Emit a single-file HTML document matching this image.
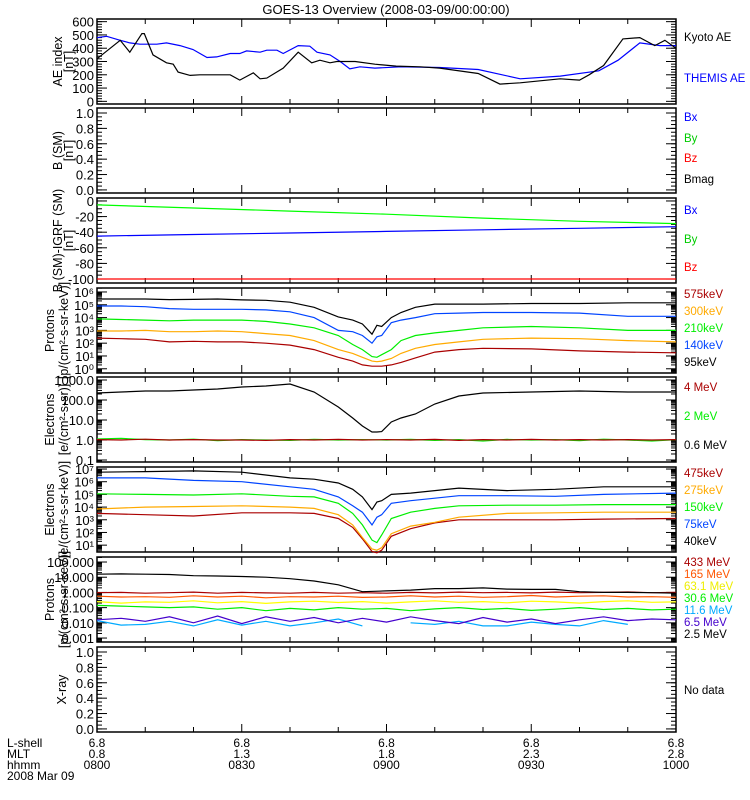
<!DOCTYPE html>
<html><head><meta charset="utf-8"><style>
body{margin:0;background:#fff}
svg{display:block;font-family:"Liberation Sans",sans-serif}
</style></head><body>
<svg id="c" width="750" height="800" viewBox="0 0 750 800"></svg>
<script>
// ---------- data ----------
const kyotoT=[0,4.8,6.8,9.3,9.8,11.6,14.4,15.8,16.8,19.3,21.3,27.6,29.6,32.4,33.8,35.2,38.6,41.7,44.5,46.2,48.3,49.7,53.5,57.6,62,67,71,79,83.5,87.7,96,100,102,105,109,112.5,115.6,117.7,120];
const kyotoV=[320,460,370,510,510,350,290,280,220,195,200,200,160,215,170,175,250,370,290,310,290,300,300,280,265,260,250,210,130,140,170,160,200,270,470,480,420,460,400];
const themisT=[0,2,4.8,6.8,8.9,12.4,14.4,17.2,19.9,22.8,24.8,27.6,29.6,31,33.8,35.2,37.3,38.6,41.7,44.1,45.6,48.3,50.4,52.4,54.5,57.6,63,71,79,87.7,96,104,108,112.5,116.7,120];
const themisV=[480,490,460,440,430,430,440,420,390,330,335,360,360,380,370,385,385,360,420,415,370,350,300,245,260,250,260,255,240,170,190,230,310,440,420,420];
const bT=[0,20,40,60,80,100,120];
const bxV=[-45,-43,-41,-39,-37,-35,-33];
const byV=[-5,-9,-13,-17,-22,-26,-29];
const bzV=[-100,-100,-100,-100,-100,-100,-100];
const pT=[0,5,10,15,20,25,30,35,40,45,50,53,55,57,58,59,61,63,66,70,75,80,90,100,110,120];
const p95=[5.45,5.45,5.45,5.4,5.42,5.45,5.38,5.35,5.2,4.8,4.05,3.8,3.5,2.7,3.4,3.3,4.0,4.4,4.8,5.05,5.05,5.05,5.1,5.1,5.15,5.15];
const p140=[4.9,4.9,4.85,4.7,4.65,4.65,4.65,4.6,4.45,4.0,3.0,2.9,2.6,2.0,2.5,2.6,3.6,3.8,4.0,4.3,4.35,4.4,4.4,4.35,4.1,4.1];
const p210=[3.9,3.85,3.8,3.75,3.8,3.8,3.8,3.7,3.5,3.2,2.6,1.9,1.5,0.95,0.9,1.1,1.5,2.2,2.6,2.8,3.0,3.2,3.3,3.2,3.0,3.0];
const p300=[2.95,2.95,3.0,2.9,2.9,2.95,2.9,2.75,2.6,2.2,1.5,1.2,0.9,0.6,0.55,0.6,0.8,1.2,1.6,1.9,2.1,2.3,2.4,2.35,2.2,2.1];
const p575=[2.4,2.35,2.3,2.1,2.15,2.1,2.1,2.0,1.85,1.5,0.9,0.6,0.3,0.2,0.2,0.2,0.3,0.5,0.85,1.3,1.5,1.6,1.55,1.4,1.3,1.25];
const e06=[2.35,2.4,2.45,2.45,2.5,2.55,2.65,2.7,2.8,2.4,1.65,1.1,0.7,0.4,0.4,0.42,0.9,1.1,1.3,1.8,2.2,2.35,2.4,2.45,2.4,2.4];
const nT=[0,5,10,15,20,25,30,35,40,45,50,55,60,65,70,75,80,85,90,95,100,105,110,115,120];
const e2=[0.05,0.08,0.02,0.0,0.04,-0.03,0.02,0.0,-0.02,0.03,0.0,0.02,0.0,0.03,-0.02,0.02,-0.05,0.03,0.0,0.02,-0.03,0.04,0.0,-0.05,0.02];
const e4=[0.02,0.0,0.04,0.0,0.02,0.0,0.0,-0.02,0.02,0.0,0.03,0.0,0.02,0.0,0.03,-0.02,0.02,0.0,0.03,0.0,0.02,0.0,0.02,0.0,0.02];
const eT=[0,10,20,30,40,45,50,53,55,57,58,59,61,65,70,75,85,95,105,120];
const e40=[6.75,6.8,6.85,6.75,6.3,6.2,5.9,5.4,4.8,3.8,4.4,4.5,5.0,5.1,5.3,5.5,5.3,5.4,5.6,5.6];
const e75=[6.3,6.3,6.1,6.0,5.6,5.4,4.8,4.1,3.6,2.6,3.2,3.4,4.3,4.5,4.7,4.9,4.9,4.85,5.0,5.1];
const e150=[5.05,5.0,4.95,5.05,4.85,4.8,4.3,3.5,2.6,1.4,1.2,1.8,3.1,3.6,3.9,4.1,4.15,4.15,4.2,4.2];
const e275=[3.85,4.0,4.05,4.1,4.0,3.9,3.4,2.6,1.6,0.7,0.6,0.8,1.9,2.5,2.8,3.2,3.5,3.55,3.6,3.6];
const e475=[3.5,3.4,3.3,3.55,3.55,3.5,3.1,2.4,1.5,0.5,0.4,0.6,1.7,2.3,2.75,3.0,3.0,3.0,3.05,3.1];
const h25=[1.2,1.22,1.2,1.18,1.1,1.08,1.05,1.0,0.9,0.75,0.5,0.05,0.1,0.15,0.25,0.25,0.3,0.22,0.2,0.2,0.05,0.0,0.0,-0.02,-0.05];
const h433=[-0.02,0.0,-0.05,-0.02,0.02,-0.05,0.0,-0.03,-0.05,0.0,-0.05,-0.02,-0.05,0.0,-0.03,0.02,-0.02,0.0,-0.03,0.02,-0.02,0.0,0.03,-0.02,0.0];
const h165=[-0.25,-0.3,-0.28,-0.32,-0.22,-0.3,-0.25,-0.35,-0.28,-0.3,-0.25,-0.33,-0.3,-0.22,-0.3,-0.25,-0.32,-0.28,-0.2,-0.3,-0.25,-0.22,-0.3,-0.28,-0.32];
const h63=[-0.6,-0.7,-0.62,-0.65,-0.55,-0.68,-0.6,-0.72,-0.62,-0.58,-0.66,-0.6,-0.7,-0.62,-0.55,-0.65,-0.6,-0.68,-0.58,-0.62,-0.7,-0.6,-0.55,-0.65,-0.62];
const h30=[-0.85,-0.9,-0.95,-1.0,-0.95,-1.1,-1.0,-1.2,-1.05,-1.15,-1.0,-1.1,-1.05,-1.2,-1.08,-1.0,-1.12,-1.05,-1.18,-1.1,-1.0,-1.12,-1.05,-1.15,-1.1];
const h6=[-1.8,-1.7,-1.9,-1.6,-2.0,-1.55,-2.05,-1.6,-1.9,-1.65,-2.0,-1.7,-1.95,-1.6,-1.85,-2.05,-1.65,-1.95,-1.75,-2.05,-1.8,-1.6,-1.85,-1.75,-1.8];
const h11=[-1.85,-2.15,-2.1,-1.9,-2.2,-1.8,-2.15,-1.9,-2.2,-2.0,-1.75,-2.2,null,-2.0,-2.1,-1.9,-2.2,-2.2,-1.95,-2.1,-2.2,-1.85,-2.1,null,-2.05];
const bottomRows=["L-shell","MLT","hhmm"];
const lshell=["6.8","6.8","6.8","6.8","6.8"];
const mlt=["0.8","1.3","1.8","2.3","2.8"];
const hhmm=["0800","0830","0900","0930","1000"];

// ---------- drawing ----------
const NS="http://www.w3.org/2000/svg";
const svg=document.getElementById('c');
const X0=97,X1=676,H=85;
function xOf(m){return X0+(X1-X0)*m/120;}
function mk(tag,attrs,parent){const e=document.createElementNS(NS,tag);for(const k in attrs)e.setAttribute(k,attrs[k]);(parent||svg).appendChild(e);return e;}
function txt(s,x,y,opt,parent){const e=mk('text',Object.assign({x:x,y:y,'font-size':opt.fs||12,fill:opt.fill||'#000','text-anchor':opt.anchor||'start'},opt.tr?{transform:opt.tr}:{}),parent);e.textContent=s;return e;}

const panels=[
 {top:19,min:-20,max:620,name:'ae-panel'},
 {top:108,min:-0.04,max:1.065,name:'b-sm-panel'},
 {top:198,min:-105.1,max:3.8,name:'b-igrf-panel'},
 {top:288,min:-0.33,max:6.31,name:'proton-low-panel'},
 {top:377,min:-1.1,max:3.15,name:'electron-integral-panel'},
 {top:467,min:0.46,max:7.16,name:'electron-diff-panel'},
 {top:557,min:-3.26,max:2.33,name:'proton-high-panel'},
 {top:647,min:-0.04,max:1.065,name:'xray-panel'}];
function yOf(p,v){return p.top+H-(v-p.min)/(p.max-p.min)*H;}

function series(p,T,V,color,name){
  const g=mk('g',{});
  
  
  let d='',pen=false;
  for(let i=0;i<T.length;i++){
    if(V[i]===null||V[i]===undefined){pen=false;continue;}
    d+=(pen?'L':'M')+xOf(T[i]).toFixed(1)+' '+yOf(p,V[i]).toFixed(1)+' ';pen=true;
  }
  const path=mk('path',{d:d,fill:'none',stroke:color,'stroke-width':1.2},g);
  
  
}

// title
const tt=txt('GOES-13 Overview (2008-03-09/00:00:00)',386,14,{fs:13,anchor:'middle'});



function axes(p,major,minor,labels,isLog){
  const g=mk('g',{});
  
  
  mk('rect',{x:X0,y:p.top,width:X1-X0,height:H,fill:'none',stroke:'#000','stroke-width':1.5},g);
  // time ticks
  for(let m=10;m<120;m+=10){
    const L=(m%30===0)?8:5;
    mk('line',{x1:xOf(m),x2:xOf(m),y1:p.top+H,y2:p.top+H-L,stroke:'#000'},g);
    mk('line',{x1:xOf(m),x2:xOf(m),y1:p.top,y2:p.top+L,stroke:'#000'},g);
  }
  minor.forEach(v=>{const y=yOf(p,v);if(y<p.top||y>p.top+H)return;
    mk('line',{x1:X0,x2:X0+5,y1:y,y2:y,stroke:'#000'},g);mk('line',{x1:X1-5,x2:X1,y1:y,y2:y,stroke:'#000'},g);});
  major.forEach((v,i)=>{const y=yOf(p,v);
    mk('line',{x1:X0,x2:X0+10,y1:y,y2:y,stroke:'#000'},g);mk('line',{x1:X1-10,x2:X1,y1:y,y2:y,stroke:'#000'},g);
    const t=txt(labels[i],X0-3,y+5,{fs:13,anchor:'end'},g);
    
    
  });
}
function logMinor(a,b){const r=[];for(let d=a;d<b;d++)for(let k=2;k<10;k++)r.push(d+Math.log10(k));return r;}
function lin(a,b,s){const r=[];for(let v=a;v<=b+1e-9;v+=s)r.push(+v.toFixed(4));return r;}

axes(panels[0],[0,100,200,300,400,500,600],lin(0,600,20),['0','100','200','300','400','500','600']);
axes(panels[1],[0,0.2,0.4,0.6,0.8,1.0],lin(0,1,0.05),['0.0','0.2','0.4','0.6','0.8','1.0']);
axes(panels[2],[0,-20,-40,-60,-80,-100],lin(-100,0,5),['0','-20','-40','-60','-80','-100']);
axes(panels[3],[0,1,2,3,4,5,6],logMinor(-1,7),['10⁰','10¹','10²','10³','10⁴','10⁵','10⁶']);
axes(panels[4],[-1,0,1,2,3],logMinor(-2,4),['0.1','1.0','10.0','100.0','1000.0']);
axes(panels[5],[1,2,3,4,5,6,7],logMinor(0,8),['10¹','10²','10³','10⁴','10⁵','10⁶','10⁷']);
axes(panels[6],[-3,-2,-1,0,1,2],logMinor(-4,3),['0.001','0.010','0.100','1.000','10.000','100.000']);
axes(panels[7],[0,0.2,0.4,0.6,0.8,1.0],lin(0,1,0.05),['0.0','0.2','0.4','0.6','0.8','1.0']);

// series
series(panels[0],themisT,themisV,'#0000ff','themis-ae');
series(panels[0],kyotoT,kyotoV,'#000','kyoto-ae');
series(panels[2],bT,bxV,'#0000ff','b-igrf-bx');
series(panels[2],bT,byV,'#00ff00','b-igrf-by');
series(panels[2],bT,bzV,'#ff0000','b-igrf-bz');
series(panels[3],pT,p575,'#aa0000','proton-575kev');
series(panels[3],pT,p300,'#ffaa00','proton-300kev');
series(panels[3],pT,p210,'#00ee00','proton-210kev');
series(panels[3],pT,p140,'#0044ff','proton-140kev');
series(panels[3],pT,p95,'#000','proton-95kev');
series(panels[4],pT,e06,'#000','electron-0.6mev');
series(panels[4],nT,e2,'#00ee00','electron-2mev');
series(panels[4],nT,e4,'#aa0000','electron-4mev');
series(panels[5],eT,e475,'#aa0000','electron-475kev');
series(panels[5],eT,e275,'#ffaa00','electron-275kev');
series(panels[5],eT,e150,'#00ee00','electron-150kev');
series(panels[5],eT,e75,'#0044ff','electron-75kev');
series(panels[5],eT,e40,'#000','electron-40kev');
series(panels[6],nT,h11,'#00aaff','proton-11.6mev');
series(panels[6],nT,h6,'#4400cc','proton-6.5mev');
series(panels[6],nT,h30,'#00ee00','proton-30.6mev');
series(panels[6],nT,h63,'#ffff00','proton-63.1mev');
series(panels[6],nT,h165,'#ff5500','proton-165mev');
series(panels[6],nT,h433,'#aa0000','proton-433mev');
series(panels[6],nT,h25,'#000','proton-2.5mev');

// legends (right side)
const legends=[
 [['Kyoto AE','#000',37],['THEMIS AE','#0000ff',78]],
 [['Bx','#0000ff',117],['By','#00cc00',138],['Bz','#ff0000',158],['Bmag','#000',179]],
 [['Bx','#0000ff',210],['By','#00cc00',239],['Bz','#ff0000',267]],
 [['575keV','#aa0000',294],['300keV','#ffaa00',311],['210keV','#00ee00',328],['140keV','#0044ff',345],['95keV','#000',362]],
 [['4 MeV','#aa0000',387],['2 MeV','#00ee00',416],['0.6 MeV','#000',445]],
 [['475keV','#aa0000',473],['275keV','#ffaa00',490],['150keV','#00ee00',507],['75keV','#0044ff',524],['40keV','#000',541]],
 [['433 MeV','#aa0000',562],['165 MeV','#ff5500',574],['63.1 MeV','#eeee00',586],['30.6 MeV','#00ee00',598],['11.6 MeV','#00aaff',610],['6.5 MeV','#4400cc',622],['2.5 MeV','#000',634]],
 [['No data','#000',690]]];
legends.forEach(l=>l.forEach(e=>{const t=txt(e[0],684,e[2]+4,{fs:11.5,fill:e[1]});
  
  }));

// y axis titles
const ytitles=[
 [['AE index',62],['[nT]',73]],
 [['B (SM)',62],['[nT]',73]],
 [['B (SM)-IGRF (SM)',62],['[nT]',73]],
 [['Protons',54],['[p/(cm²-s-sr-keV)]',68]],
 [['Electrons',54],['[e/(cm²-s-sr)]',68]],
 [['Electrons',54],['[e/(cm²-s-sr-keV)]',68]],
 [['Protons',54],['[p/(cm²-s-sr-keV)]',68]],
 [['X-ray',66]]];
ytitles.forEach((l,i)=>{const cy=panels[i].top+H/2;l.forEach(e=>{
  const t=txt(e[0],e[1],cy,{fs:12.5,anchor:'middle',tr:'rotate(-90 '+e[1]+' '+cy+')'});
  
  });});

// bottom labels
bottomRows.forEach((r,i)=>{const t=txt(r,7,747+i*11,{fs:12});
  
  });
const dt=txt('2008 Mar 09',7,780,{fs:12});


[lshell,mlt,hhmm].forEach((arr,r)=>arr.forEach((s,i)=>{
  const t=txt(s,xOf(i*30),747+r*11,{fs:12,anchor:'middle'});
  
  }));
</script>
</body></html>
